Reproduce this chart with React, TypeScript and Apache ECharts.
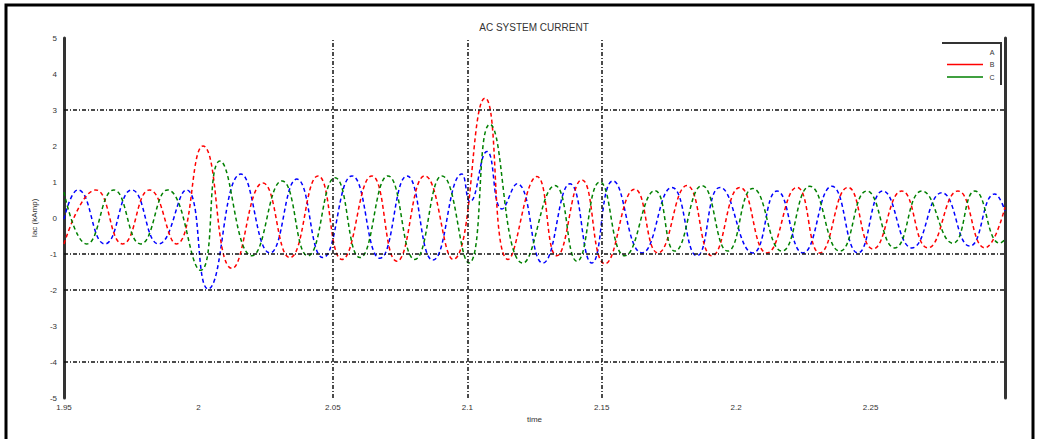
import React, { useEffect, useRef } from 'react';
import * as echarts from 'echarts';

const titleText = 'AC SYSTEM CURRENT';
const xAxisName = 'time';
const yAxisName = 'Iac (kAmp)';
const seriesNames = ['A', 'B', 'C'];
const seriesColors = ['#0000ff', '#ff0000', '#008000'];
const xTickLabels = ['1.95', '2', '2.05', '2.1', '2.15', '2.2', '2.25', ''];
const yTickLabels = ['-5', '-4', '-3', '-2', '-1', '0', '1', '2', '3', '4', '5'];
const gridLinesY = [3, -1, -2, -4];
const gridLinesX = [2.05, 2.1, 2.15];

// [time (s), current (kA)] read at each peak / trough
const phaseA = [
  [1.95, -0.03], [1.9552, 0.78], [1.9652, -0.72], [1.9752, 0.78], [1.9852, -0.72],
  [1.9955, 0.78], [2.0036, -1.97], [2.0158, 1.22], [2.0266, -0.97], [2.0366, 1.08],
  [2.0463, -1.1], [2.0571, 1.17], [2.0675, -1.12], [2.0776, 1.17], [2.0872, -1.17],
  [2.098, 1.22], [2.101, 0.45], [2.1073, 1.85], [2.1129, 0.25], [2.1185, 0.95],
  [2.1281, -1.25], [2.1382, 0.95], [2.1463, -1.25], [2.1542, 1.03], [2.165, -0.97],
  [2.1761, 0.85], [2.1854, -1.05], [2.194, 0.85], [2.2062, -0.97], [2.2152, 0.75],
  [2.2248, -0.97], [2.2356, 0.88], [2.2453, -0.97], [2.2546, 0.75], [2.2654, -0.83],
  [2.2765, 0.7], [2.2869, -0.78], [2.2962, 0.67], [2.3, 0.2],
];
const phaseB = [
  [1.95, -0.72], [1.9618, 0.78], [1.9718, -0.72], [1.9818, 0.78], [1.9918, -0.72],
  [2.0017, 2.0], [2.0125, -1.4], [2.024, 0.97], [2.034, -1.1], [2.0445, 1.17],
  [2.0534, -1.15], [2.0645, 1.17], [2.0738, -1.2], [2.0842, 1.17], [2.0947, -1.15],
  [2.1066, 3.33], [2.1152, -1.15], [2.1259, 1.15], [2.1333, -1.05], [2.1426, 1.06],
  [2.1512, -1.27], [2.1623, 0.8], [2.1709, -0.97], [2.1817, 0.9], [2.191, -1.05],
  [2.2014, 0.85], [2.2114, -0.97], [2.2226, 0.85], [2.2311, -0.97], [2.2416, 0.85],
  [2.2509, -0.86], [2.2616, 0.75], [2.2713, -0.83], [2.2825, 0.75], [2.2925, -0.83],
  [2.3, 0.3],
];
const phaseC = [
  [1.95, 0.72], [1.9585, -0.72], [1.9685, 0.78], [1.9785, -0.72], [1.9885, 0.78],
  [2.0008, -1.45], [2.008, 1.58], [2.0199, -1.05], [2.0311, 1.03], [2.0407, -1.05],
  [2.0508, 1.12], [2.0601, -1.1], [2.0705, 1.17], [2.0805, -1.15], [2.0906, 1.17],
  [2.1006, -1.25], [2.1084, 2.6], [2.1207, -1.25], [2.1326, 0.9], [2.1408, -1.2],
  [2.1493, 1.0], [2.1586, -1.05], [2.1698, 0.76], [2.1772, -0.92], [2.1873, 0.9],
  [2.1969, -0.92], [2.2062, 0.82], [2.217, -0.92], [2.2274, 0.88], [2.2386, -0.92],
  [2.2486, 0.75], [2.259, -0.83], [2.2691, 0.75], [2.2806, -0.7], [2.2888, 0.75],
  [2.2981, -0.7], [2.3, -0.6],
];
const phases = [phaseA, phaseB, phaseC];

const FONT = 'Liberation Sans, Arial, sans-serif';

export default function App() {
  const ref = useRef<HTMLDivElement>(null);
  useEffect(() => {
    if (!ref.current) return;
    const chart = echarts.init(ref.current, null, { renderer: 'svg' });
    const option: any = {
      animation: false,
      backgroundColor: '#ffffff',
      textStyle: { fontFamily: FONT },
      grid: { left: 64, right: 35, top: 38, bottom: 41 },
      xAxis: {
        type: 'value',
        min: 1.95,
        max: 2.3,
        interval: 0.05,
        axisLine: { show: false },
        axisTick: { show: false },
        splitLine: { show: false },
        axisLabel: {
          fontSize: 8,
          color: '#333',
          margin: 5,
          fontFamily: FONT,
          formatter: (v: number) => xTickLabels[Math.round((v - 1.95) / 0.05)] ?? '',
        },
        name: xAxisName,
        nameLocation: 'middle',
        nameGap: 17,
        nameTextStyle: { fontSize: 8, color: '#333', fontFamily: FONT },
      },
      yAxis: [
        {
          type: 'value',
          min: -5,
          max: 5,
          interval: 1,
          axisLine: { show: true, lineStyle: { color: '#333', width: 3 } },
          axisTick: { show: false },
          splitLine: { show: false },
          axisLabel: {
            fontSize: 8,
            color: '#333',
            margin: 7,
            fontFamily: FONT,
            formatter: (v: number) => yTickLabels[Math.round(v + 5)] ?? '',
          },
          name: yAxisName,
          nameLocation: 'middle',
          nameGap: 23,
          nameRotate: 90,
          nameTextStyle: { fontSize: 8, color: '#333', fontFamily: FONT },
        },
        {
          type: 'value',
          position: 'right',
          min: -5,
          max: 5,
          interval: 1,
          axisLine: { show: true, onZero: false, lineStyle: { color: '#333', width: 3 } },
          axisTick: { show: false },
          axisLabel: { show: false },
          splitLine: { show: false },
        },
      ],
      series: [
        {
          type: 'line',
          name: 'grid',
          data: [],
          silent: true,
          z: 1,
          markLine: {
            silent: true,
            symbol: 'none',
            label: { show: false },
            lineStyle: { color: '#111', width: 1.5, type: [4, 2, 1, 2] },
            data: [
              ...gridLinesY.map((v) => ({ yAxis: v })),
              ...gridLinesX.map((v) => ({ xAxis: v })),
            ],
          },
        },
        ...phases.map((d, i) => ({
          type: 'line',
          name: seriesNames[i],
          data: d,
          showSymbol: false,
          symbol: 'none',
          smooth: 0.5,
          z: 2,
          lineStyle: { color: seriesColors[i], width: 1.5, type: [4, 3] },
        })),
      ],
      graphic: [
        {
          type: 'rect',
          shape: { x: 6, y: 5, width: 1027, height: 445 },
          style: { fill: 'none', stroke: '#000', lineWidth: 3 },
          silent: true,
        },
        {
          type: 'text',
          x: 534,
          y: 27,
          style: {
            text: titleText,
            fontSize: 10,
            fill: '#333',
            fontFamily: FONT,
            textAlign: 'center',
            textVerticalAlign: 'middle',
          },
        },
        {
          type: 'polyline',
          shape: { points: [[942, 43], [1001, 43], [1001, 85]] },
          style: { stroke: '#333', lineWidth: 2, fill: 'none' },
        },
        ...seriesNames.map((n, i) => ({
          type: 'text',
          x: 992,
          y: 52 + i * 12.5,
          style: {
            text: n,
            fontSize: 7,
            fill: '#333',
            fontFamily: FONT,
            textAlign: 'center',
            textVerticalAlign: 'middle',
          },
        })),
        ...seriesNames.slice(1).map((n, i) => ({
          type: 'line',
          shape: { x1: 947, y1: 64.5 + i * 12.5, x2: 983, y2: 64.5 + i * 12.5 },
          style: { stroke: seriesColors[i + 1], lineWidth: 1.5 },
        })),
      ],
    };
    chart.setOption(option);
    return () => chart.dispose();
  }, []);
  return (
    <div
      ref={ref}
      style={{ position: 'fixed', left: 0, top: 0, width: 1040, height: 439, background: '#fff' }}
    />
  );
}
